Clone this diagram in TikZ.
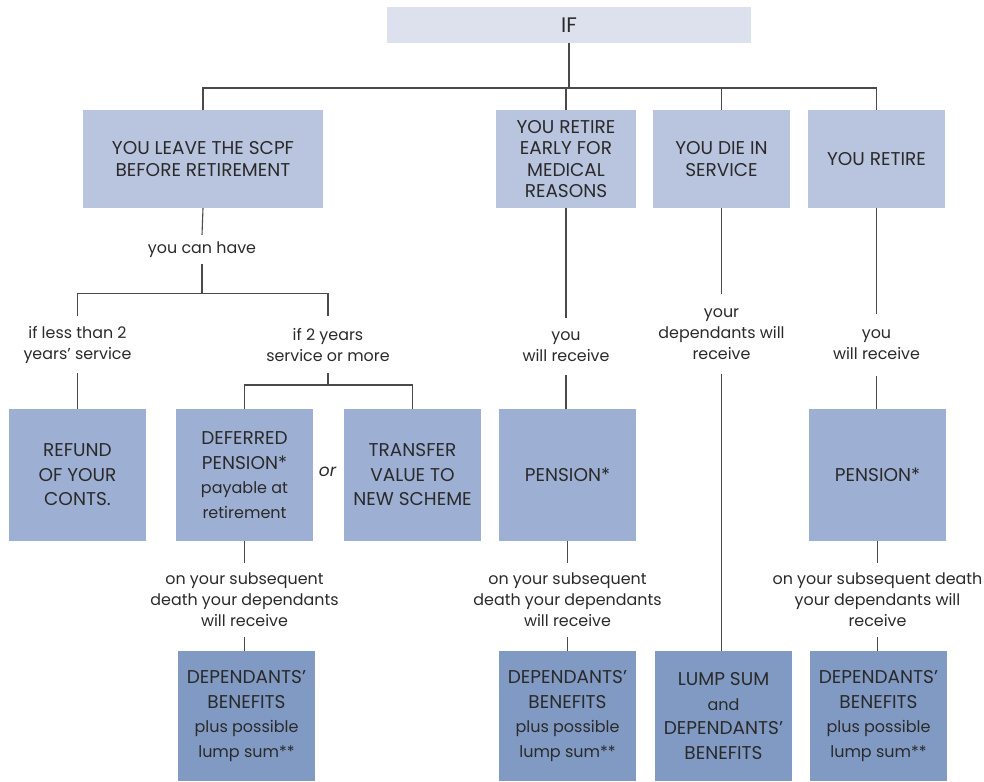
\documentclass[tikz,border=0pt]{standalone}
\usepackage{fontspec}
\setmainfont{Poppins}
\definecolor{cIF}{HTML}{DCE1ED}
\definecolor{cA}{HTML}{B9C5DF}
\definecolor{cB}{HTML}{9DB0D3}
\definecolor{cC}{HTML}{809AC4}
\definecolor{cLine}{HTML}{4A4A4A}
\definecolor{cText}{HTML}{2A2A2A}
\newcommand\lcb[1]{{\fontsize{16}{24.5}\selectfont #1}}
\begin{document}
\begin{tikzpicture}[x=1pt,y=-1pt,
  box/.style={rectangle, inner sep=0pt, align=center, text=cText},
  rowA/.style={box, fill=cA, minimum width=137pt, minimum height=98pt, font=\fontsize{18.5}{21.5}\selectfont},
  rowB/.style={box, fill=cB, minimum width=137pt, minimum height=132pt, font=\fontsize{18.5}{24.5}\selectfont},
  rowC/.style={box, fill=cC, minimum width=137pt, minimum height=130pt, font=\fontsize{18.5}{24.8}\selectfont},
  lbl/.style={inner sep=0pt, align=center, text=cText, font=\fontsize{15.9}{21}\selectfont},
  conn/.style={draw=cLine, line width=1.1pt}
]
\useasboundingbox (0,0) rectangle (984,781);
% top
\node[box, fill=cIF, minimum width=364pt, minimum height=36pt, font=\fontsize{21}{24}\selectfont] (if) at (569,25) {IF};
% row A
\node[rowA, minimum width=240pt] (scpf) at (203,159) {YOU LEAVE THE SCPF\\BEFORE RETIREMENT};
\node[rowA, minimum width=140pt] (med) at (566,159) {YOU RETIRE\\EARLY FOR\\MEDICAL\\REASONS};
\node[rowA] (die) at (721.5,159) {YOU DIE IN\\SERVICE};
\node[rowA] (ret) at (876.5,159) {YOU RETIRE};
% labels
\node[lbl, minimum height=29pt] (canhave) at (202,249.5) {you can have};
\node[lbl, minimum height=57pt] (less) at (77.5,344.5) {if less than 2\\years’ service};
\node[lbl, minimum height=57pt] (more) at (328,344.5) {if 2 years\\service or more};
\node[lbl, minimum height=57pt] (youwillA) at (566,346.5) {you\\will receive};
\node[lbl, minimum height=79pt] (depwill) at (721.5,334) {your\\dependants will\\receive};
\node[lbl, minimum height=62pt] (youwillB) at (876.5,345) {you\\will receive};
% row B
\node[rowB] (refund) at (77.5,475) {REFUND\\OF YOUR\\CONTS.};
\node[rowB] (deferred) at (244.5,475) {DEFERRED\\PENSION*\\\lcb{payable at}\\\lcb{retirement}};
\node[lbl, font=\fontsize{17}{21}\selectfont\itshape] (or) at (327.5,472) {or};
\node[rowB] (transfer) at (412.5,475) {TRANSFER\\VALUE TO\\NEW SCHEME};
\node[rowB] (penA) at (567.5,475) {PENSION*};
\node[rowB] (penB) at (877.5,475) {PENSION*};
% subsequent labels
\node[lbl, minimum height=74pt] (subA) at (244.5,600) {on your subsequent\\death your dependants\\will receive};
\node[lbl, minimum height=74pt] (subB) at (567.5,600) {on your subsequent\\death your dependants\\will receive};
\node[lbl, minimum height=74pt] (subC) at (877.5,600) {on your subsequent death\\your dependants will\\receive};
% row C
\node[rowC] (depA) at (246.5,716) {DEPENDANTS’\\BENEFITS\\\lcb{plus possible}\\\lcb{lump sum**}};
\node[rowC] (depB) at (567.5,716) {DEPENDANTS’\\BENEFITS\\\lcb{plus possible}\\\lcb{lump sum**}};
\node[rowC] (lump) at (723.5,716) {LUMP SUM\\\lcb{and}\\DEPENDANTS’\\BENEFITS};
\node[rowC] (depC) at (878.5,716) {DEPENDANTS’\\BENEFITS\\\lcb{plus possible}\\\lcb{lump sum**}};
% junctions
\coordinate (j0) at (569,88);
\coordinate (j1) at (202,293.5);
\coordinate (j2) at (328,385);
% connectors
\draw[conn] (if.south) -- (j0);
\draw[conn] (scpf.north) -- (scpf.north |- j0) -- (ret.north |- j0) -- (ret.north);
\draw[conn] (med.north) -- (med.north |- j0);
\draw[conn] (die.north) -- (die.north |- j0);
\draw[conn] (scpf.south) -- (canhave.north);
\draw[conn] (canhave.south) -- (j1);
\draw[conn] (less.north) |- (j1) -| (more.north);
\draw[conn] (less.south) -- (less.south |- refund.north);
\draw[conn] (more.south) -- (j2);
\draw[conn] (deferred.north) |- (j2) -| (transfer.north);
\draw[conn] (deferred.south) -- (subA.north);
\draw[conn] (subA.south) -- (subA.south |- depA.north);
\draw[conn] (med.south) -- (youwillA.north);
\draw[conn] (youwillA.south) -- (youwillA.south |- penA.north);
\draw[conn] (penA.south) -- (subB.north);
\draw[conn] (subB.south) -- (subB.south |- depB.north);
\draw[conn] (die.south) -- (depwill.north);
\draw[conn] (depwill.south) -- (depwill.south |- lump.north);
\draw[conn] (ret.south) -- (youwillB.north);
\draw[conn] (youwillB.south) -- (youwillB.south |- penB.north);
\draw[conn] (penB.south) -- (subC.north);
\draw[conn] (subC.south) -- (subC.south |- depC.north);
\end{tikzpicture}
\end{document}
